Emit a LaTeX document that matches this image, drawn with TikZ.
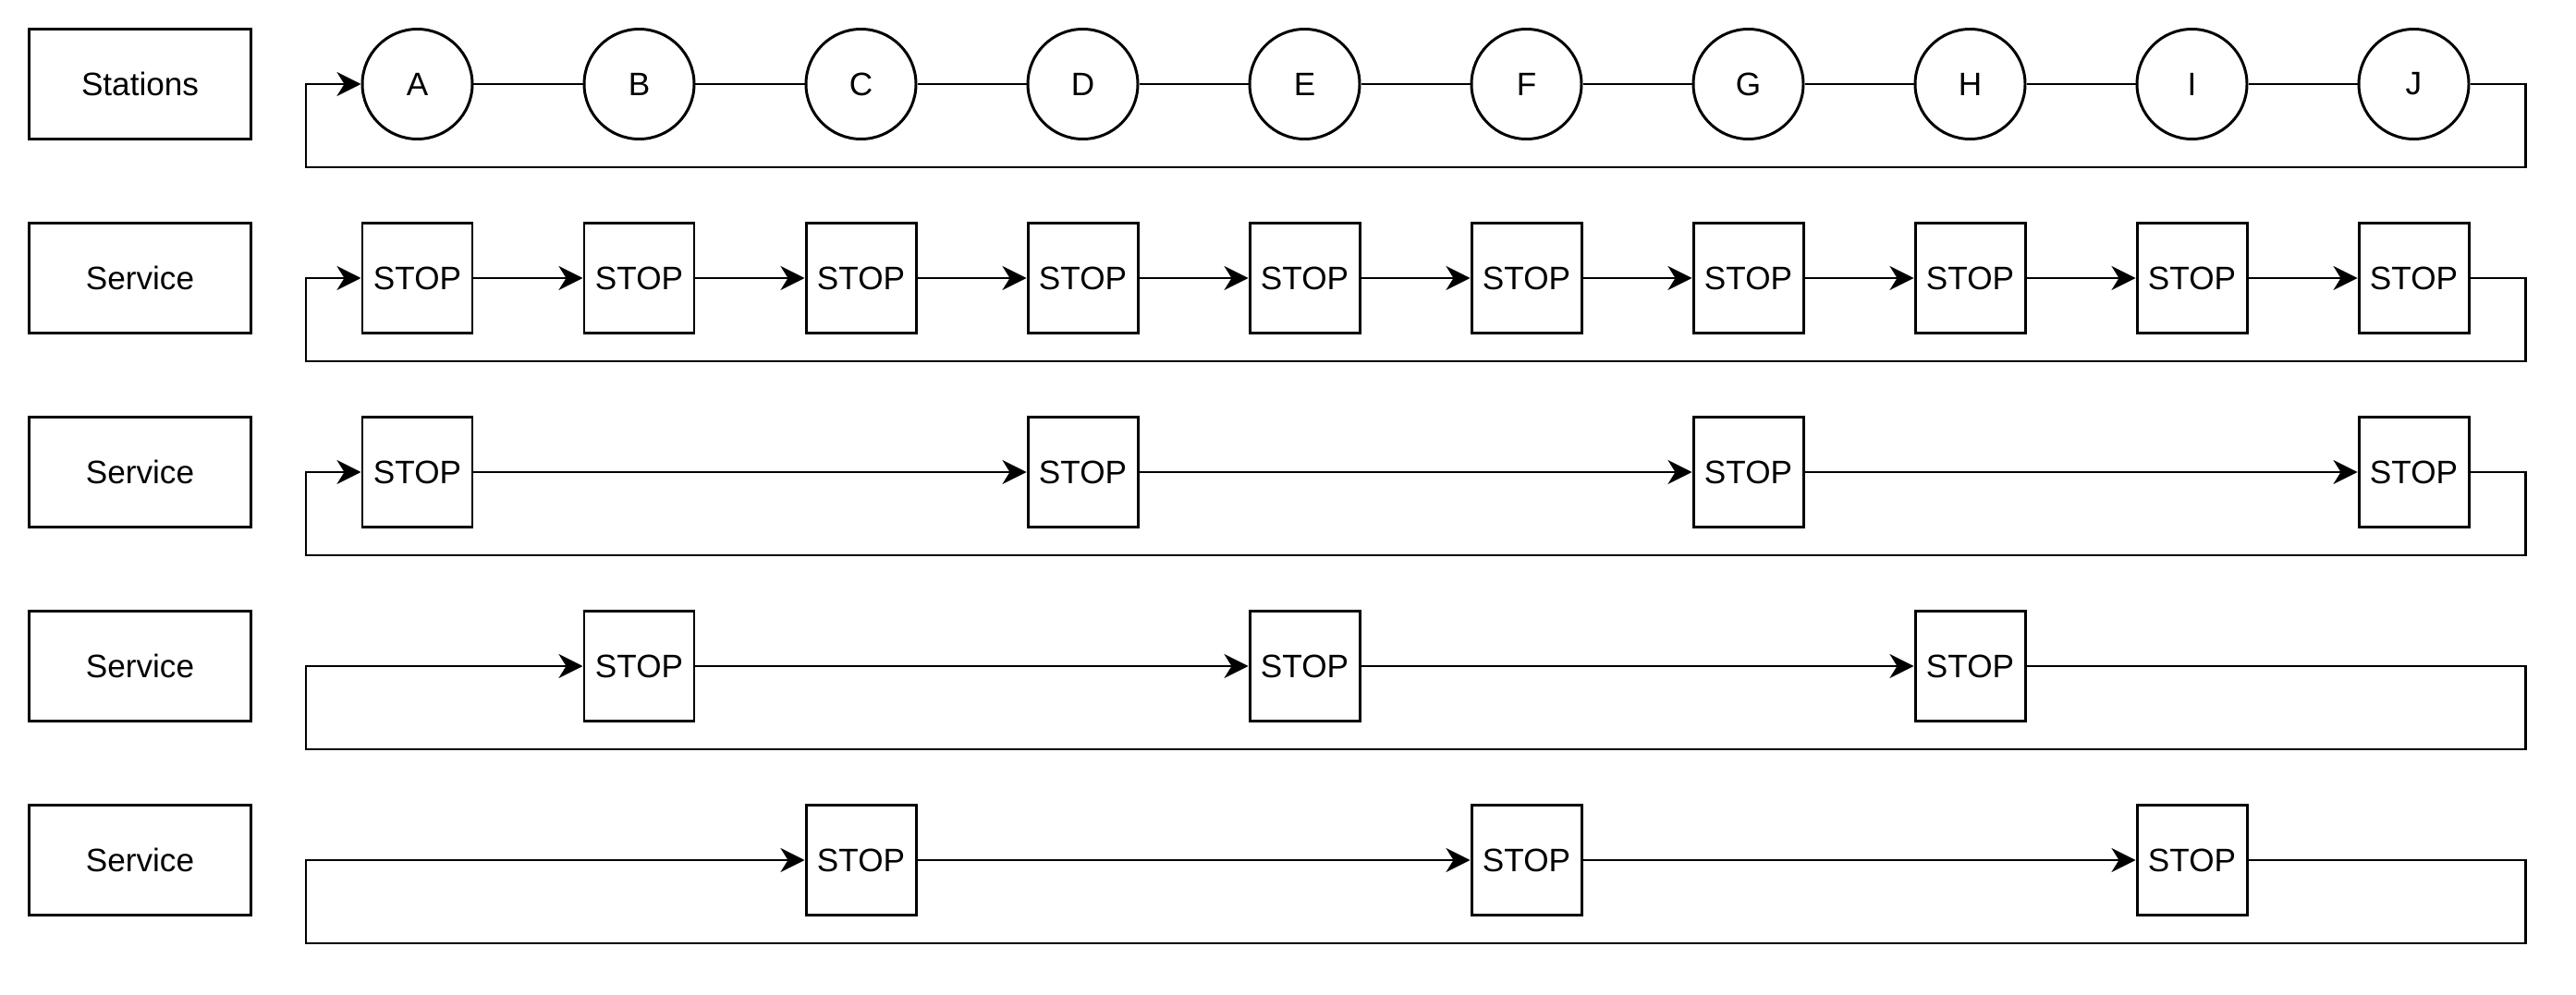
\documentclass[tikz,border=0pt]{standalone}
\usepackage{fontspec}
\setmainfont{Liberation Sans}
\usetikzlibrary{positioning,arrows.meta}

\begin{document}
\begin{tikzpicture}[node distance={24mm}, on grid, line width=0.85pt, >={Stealth[length=2.6mm,width=2.6mm,inset=0.8mm]},
  every node/.style = {font=\fontsize{10}{12}\selectfont},
  rowname/.style = {draw, minimum width=24mm, minimum height=11.9mm, inner sep=0pt},
  station/.style = {draw, circle, minimum size=11.9mm, inner sep=0pt},
  stop/.style = {draw, minimum size=11.9mm, inner sep=0pt}]
\useasboundingbox (0,0) rectangle (27.87,-10.77);
\coordinate (west) at (3.31,0);
\coordinate (east) at (27.32,0);
% row names
\node[rowname] (stations) at (1.515,-0.91) {Stations};
\node[rowname] (service1) [below=21mm of stations] {Service};
\node[rowname] (service2) [below=21mm of service1] {Service};
\node[rowname] (service3) [below=21mm of service2] {Service};
\node[rowname] (service4) [below=21mm of service3] {Service};
% stations
\node[station] (a) [right=30mm of stations] {A};
\node[station] (b) [right=of a] {B};
\node[station] (c) [right=of b] {C};
\node[station] (d) [right=of c] {D};
\node[station] (e) [right=of d] {E};
\node[station] (f) [right=of e] {F};
\node[station] (g) [right=of f] {G};
\node[station] (h) [right=of g] {H};
\node[station] (i) [right=of h] {I};
\node[station] (j) [right=of i] {J};
\draw (a) -- (b) -- (c) -- (d) -- (e) -- (f) -- (g) -- (h) -- (i) -- (j);
\draw[->] (j.east) -| ([yshift=-9mm]east |- j.east) -| (west |- a.west) -- (a.west);
% service stopping everywhere
\node[stop] (r2a) [below=21mm of a] {STOP};
\node[stop] (r2b) [right=of r2a] {STOP};
\node[stop] (r2c) [right=of r2b] {STOP};
\node[stop] (r2d) [right=of r2c] {STOP};
\node[stop] (r2e) [right=of r2d] {STOP};
\node[stop] (r2f) [right=of r2e] {STOP};
\node[stop] (r2g) [right=of r2f] {STOP};
\node[stop] (r2h) [right=of r2g] {STOP};
\node[stop] (r2i) [right=of r2h] {STOP};
\node[stop] (r2j) [right=of r2i] {STOP};
\draw[->] (r2a) -- (r2b);
\draw[->] (r2b) -- (r2c);
\draw[->] (r2c) -- (r2d);
\draw[->] (r2d) -- (r2e);
\draw[->] (r2e) -- (r2f);
\draw[->] (r2f) -- (r2g);
\draw[->] (r2g) -- (r2h);
\draw[->] (r2h) -- (r2i);
\draw[->] (r2i) -- (r2j);
\draw[->] (r2j.east) -| ([yshift=-9mm]east |- r2j.east) -| (west |- r2a.west) -- (r2a.west);
% every third station
\node[stop] (r3a) [below=21mm of r2a] {STOP};
\node[stop] (r3d) [right=72mm of r3a] {STOP};
\node[stop] (r3g) [right=72mm of r3d] {STOP};
\node[stop] (r3j) [right=72mm of r3g] {STOP};
\draw[->] (r3a) -- (r3d);
\draw[->] (r3d) -- (r3g);
\draw[->] (r3g) -- (r3j);
\draw[->] (r3j.east) -| ([yshift=-9mm]east |- r3j.east) -| (west |- r3a.west) -- (r3a.west);
% from B
\node[stop] (r4b) [below=42mm of r2b] {STOP};
\node[stop] (r4e) [right=72mm of r4b] {STOP};
\node[stop] (r4h) [right=72mm of r4e] {STOP};
\draw[->] (r4b) -- (r4e);
\draw[->] (r4e) -- (r4h);
\draw[->] (r4h.east) -| ([yshift=-9mm]east |- r4h.east) -| (west |- r4b.west) -- (r4b.west);
% from C
\node[stop] (r5c) [below=63mm of r2c] {STOP};
\node[stop] (r5f) [right=72mm of r5c] {STOP};
\node[stop] (r5i) [right=72mm of r5f] {STOP};
\draw[->] (r5c) -- (r5f);
\draw[->] (r5f) -- (r5i);
\draw[->] (r5i.east) -| ([yshift=-9mm]east |- r5i.east) -| (west |- r5c.west) -- (r5c.west);
\end{tikzpicture}
\end{document}
